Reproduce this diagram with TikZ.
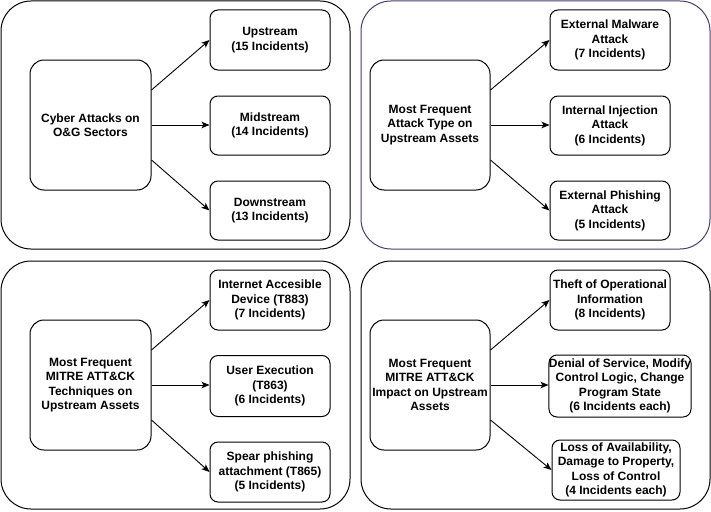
\documentclass[tikz,border=0pt]{standalone}
\usepackage{fontspec}
\setmainfont{Liberation Sans}
\usetikzlibrary{arrows.meta}
\definecolor{purp}{HTML}{4C3A6E}
\begin{document}
\begin{tikzpicture}[x=1pt,y=-1pt,
  panel/.style={draw=black,line width=1pt,rounded corners=30pt},
  mainbox/.style={draw=black,line width=1pt,rounded corners=14pt,font=\bfseries\fontsize{12}{14.4}\selectfont,align=center,inner sep=0pt},
  leaf/.style={draw=black,line width=1pt,rounded corners=8pt,font=\bfseries\fontsize{12}{14.4}\selectfont,align=center,inner sep=0pt},
  conn/.style={line width=0.9pt,-{Stealth[length=8pt,width=6.5pt,inset=2pt]}}]
\useasboundingbox (0,0) rectangle (711,511);
% panels
\draw[panel] (1,1) rectangle (350,249);
\draw[panel,draw=purp] (361,1) rectangle (710,249);
\draw[panel] (1,261) rectangle (350,509);
\draw[panel] (361,261) rectangle (710,509);
% panel 1
\node[mainbox,minimum width=121pt,minimum height=130pt] (c1) at (90.5,125) {Cyber Attacks on\\O\&G Sectors};
\node[leaf,minimum width=120pt,minimum height=60pt] (a1) at (270,40) {Upstream\\(15 Incidents)};
\node[leaf,minimum width=120pt,minimum height=59pt] (b1) at (270,125.5) {Midstream\\(14 Incidents)};
\node[leaf,minimum width=120pt,minimum height=59pt] (d1) at (270,210.5) {Downstream\\(13 Incidents)};
\draw[conn] (c1.east|-0,90) -- (a1.west);
\draw[conn] (c1.east) -- (c1.east-|b1.west);
\draw[conn] (c1.east|-0,160) -- (d1.west);
% panel 2
\node[mainbox,minimum width=120pt,minimum height=130pt] (c2) at (430,125) {Most Frequent\\Attack Type on\\Upstream Assets};
\node[leaf,minimum width=120pt,minimum height=60pt] (a2) at (610,40) {External Malware\\Attack\\(7 Incidents)};
\node[leaf,minimum width=120pt,minimum height=59pt] (b2) at (610,125.5) {Internal Injection\\Attack\\(6 Incidents)};
\node[leaf,minimum width=120pt,minimum height=59pt] (d2) at (610,210.5) {External Phishing\\Attack\\(5 Incidents)};
\draw[conn] (c2.east|-0,90) -- (a2.west);
\draw[conn] (c2.east) -- (c2.east-|b2.west);
\draw[conn] (c2.east|-0,160) -- (d2.west);
% panel 3
\node[mainbox,minimum width=121pt,minimum height=130pt] (c3) at (90.5,385) {Most Frequent\\MITRE ATT\&CK\\Techniques on\\Upstream Assets};
\node[leaf,minimum width=120pt,minimum height=60pt] (a3) at (270,300) {Internet Accesible\\Device (T883)\\(7 Incidents)};
\node[leaf,minimum width=120pt,minimum height=61pt] (b3) at (270,386) {User Execution\\(T863)\\(6 Incidents)};
\node[leaf,minimum width=120pt,minimum height=60pt] (d3) at (270,472) {Spear phishing\\attachment (T865)\\(5 Incidents)};
\draw[conn] (c3.east|-0,350) -- (a3.west);
\draw[conn] (c3.east) -- (c3.east-|b3.west);
\draw[conn] (c3.east|-0,420) -- (d3.west);
% panel 4
\node[mainbox,minimum width=120pt,minimum height=130pt] (c4) at (430,385) {Most Frequent\\MITRE ATT\&CK\\Impact on Upstream\\Assets};
\node[leaf,minimum width=120pt,minimum height=60pt] (a4) at (610,300) {Theft of Operational\\Information\\(8 Incidents)};
\node[leaf,minimum width=140pt,minimum height=62pt] (b4) at (620,386) {Denial of Service, Modify\\Control Logic, Change\\Program State\\(6 Incidents each)};
\node[leaf,minimum width=128pt,minimum height=60pt] (d4) at (616,470) {Loss of Availability,\\Damage to Property,\\Loss of Control\\(4 Incidents each)};
\draw[conn] (c4.east|-0,350) -- (a4.west);
\draw[conn] (c4.east) -- (c4.east-|b4.west);
\draw[conn] (c4.east|-0,420) -- (d4.west);
\end{tikzpicture}
\end{document}
